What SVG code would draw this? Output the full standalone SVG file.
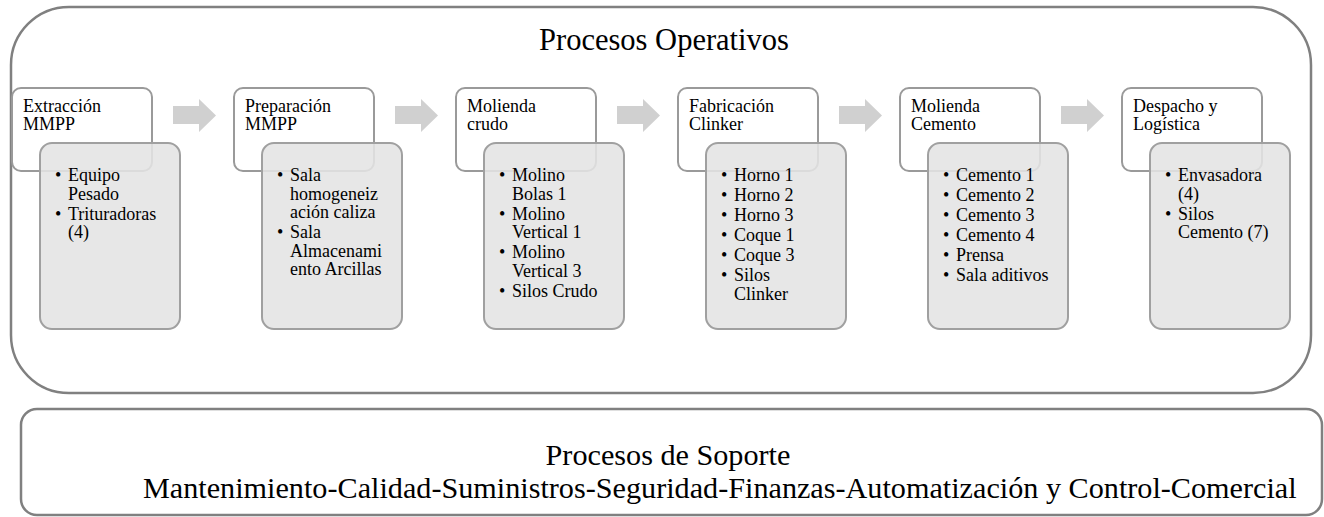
<svg xmlns="http://www.w3.org/2000/svg" width="1324" height="517" viewBox="0 0 1324 517">
<style>
.frame{fill:#ffffff;stroke:#808080;stroke-width:2.5}
.hdr{fill:#ffffff;stroke:#9a9a9a;stroke-width:2}
.det{fill:#e4e4e4;fill-opacity:0.88;stroke:#a0a0a0;stroke-width:2}
.arr{fill:#d0d0d0}
.big{font-size:30.5px}
.sup{font-size:30.2px}
.t{font-size:18px}
</style>
<g font-family="'Liberation Serif', 'Times New Roman', Times, 'DejaVu Serif', serif" fill="#000000">
<g id="operativos">
<rect class="frame" x="11" y="7" width="1300" height="386" rx="58" ry="58"/>
<text class="big" x="664" y="50" text-anchor="middle">Procesos Operativos</text>
</g>
<g id="connectors">
<path class="arr" d="M173,106 H199 V99 L216,115.5 L199,132 V124 H173 Z"/>
<path class="arr" d="M395,106 H421 V99 L438,115.5 L421,132 V124 H395 Z"/>
<path class="arr" d="M617,106 H643 V99 L660,115.5 L643,132 V124 H617 Z"/>
<path class="arr" d="M839,106 H865 V99 L882,115.5 L865,132 V124 H839 Z"/>
<path class="arr" d="M1061,106 H1087 V99 L1104,115.5 L1087,132 V124 H1061 Z"/>
</g>
<g id="n1">
<rect class="hdr" x="12" y="88" width="140" height="83" rx="9"/>
<rect class="det" x="40" y="143" width="140" height="186" rx="12"/>
<text class="t" x="23" y="112">Extracción</text>
<text class="t" x="23" y="130">MMPP</text>
<text class="t" x="55" y="181">•</text><text class="t" x="68" y="181">Equipo</text>
<text class="t" x="68" y="199.5">Pesado</text>
<text class="t" x="55" y="219.5">•</text><text class="t" x="68" y="219.5">Trituradoras</text>
<text class="t" x="68" y="238">(4)</text>
</g>
<g id="n2">
<rect class="hdr" x="234" y="88" width="140" height="83" rx="9"/>
<rect class="det" x="262" y="143" width="140" height="186" rx="12"/>
<text class="t" x="245" y="112">Preparación</text>
<text class="t" x="245" y="130">MMPP</text>
<text class="t" x="277" y="181">•</text><text class="t" x="290" y="181">Sala</text>
<text class="t" x="290" y="199.5">homogeneiz</text>
<text class="t" x="290" y="218">ación caliza</text>
<text class="t" x="277" y="238">•</text><text class="t" x="290" y="238">Sala</text>
<text class="t" x="290" y="256.5">Almacenami</text>
<text class="t" x="290" y="275">ento Arcillas</text>
</g>
<g id="n3">
<rect class="hdr" x="456" y="88" width="140" height="83" rx="9"/>
<rect class="det" x="484" y="143" width="140" height="186" rx="12"/>
<text class="t" x="467" y="112">Molienda</text>
<text class="t" x="467" y="130">crudo</text>
<text class="t" x="499" y="181">•</text><text class="t" x="512" y="181">Molino</text>
<text class="t" x="512" y="199.5">Bolas 1</text>
<text class="t" x="499" y="219.5">•</text><text class="t" x="512" y="219.5">Molino</text>
<text class="t" x="512" y="238">Vertical 1</text>
<text class="t" x="499" y="258">•</text><text class="t" x="512" y="258">Molino</text>
<text class="t" x="512" y="276.5">Vertical 3</text>
<text class="t" x="499" y="296.5">•</text><text class="t" x="512" y="296.5">Silos Crudo</text>
</g>
<g id="n4">
<rect class="hdr" x="678" y="88" width="140" height="83" rx="9"/>
<rect class="det" x="706" y="143" width="140" height="186" rx="12"/>
<text class="t" x="689" y="112">Fabricación</text>
<text class="t" x="689" y="130">Clinker</text>
<text class="t" x="721" y="181">•</text><text class="t" x="734" y="181">Horno 1</text>
<text class="t" x="721" y="201">•</text><text class="t" x="734" y="201">Horno 2</text>
<text class="t" x="721" y="221">•</text><text class="t" x="734" y="221">Horno 3</text>
<text class="t" x="721" y="241">•</text><text class="t" x="734" y="241">Coque 1</text>
<text class="t" x="721" y="261">•</text><text class="t" x="734" y="261">Coque 3</text>
<text class="t" x="721" y="281">•</text><text class="t" x="734" y="281">Silos</text>
<text class="t" x="734" y="299.5">Clinker</text>
</g>
<g id="n5">
<rect class="hdr" x="900" y="88" width="140" height="83" rx="9"/>
<rect class="det" x="928" y="143" width="140" height="186" rx="12"/>
<text class="t" x="911" y="112">Molienda</text>
<text class="t" x="911" y="130">Cemento</text>
<text class="t" x="943" y="181">•</text><text class="t" x="956" y="181">Cemento 1</text>
<text class="t" x="943" y="201">•</text><text class="t" x="956" y="201">Cemento 2</text>
<text class="t" x="943" y="221">•</text><text class="t" x="956" y="221">Cemento 3</text>
<text class="t" x="943" y="241">•</text><text class="t" x="956" y="241">Cemento 4</text>
<text class="t" x="943" y="261">•</text><text class="t" x="956" y="261">Prensa</text>
<text class="t" x="943" y="281">•</text><text class="t" x="956" y="281">Sala aditivos</text>
</g>
<g id="n6">
<rect class="hdr" x="1122" y="88" width="140" height="83" rx="9"/>
<rect class="det" x="1150" y="143" width="140" height="186" rx="12"/>
<text class="t" x="1133" y="112">Despacho y</text>
<text class="t" x="1133" y="130">Logística</text>
<text class="t" x="1165" y="181">•</text><text class="t" x="1178" y="181">Envasadora</text>
<text class="t" x="1178" y="199.5">(4)</text>
<text class="t" x="1165" y="219.5">•</text><text class="t" x="1178" y="219.5">Silos</text>
<text class="t" x="1178" y="238">Cemento (7)</text>
</g>
<g id="soporte">
<rect class="frame" x="21" y="409" width="1301" height="106" rx="16" ry="16"/>
<text class="sup" x="668" y="465" text-anchor="middle">Procesos de Soporte</text>
<text class="sup" x="143" y="498">Mantenimiento-Calidad-Suministros-Seguridad-Finanzas-Automatización y Control-Comercial</text>
</g>
</g>
</svg>
